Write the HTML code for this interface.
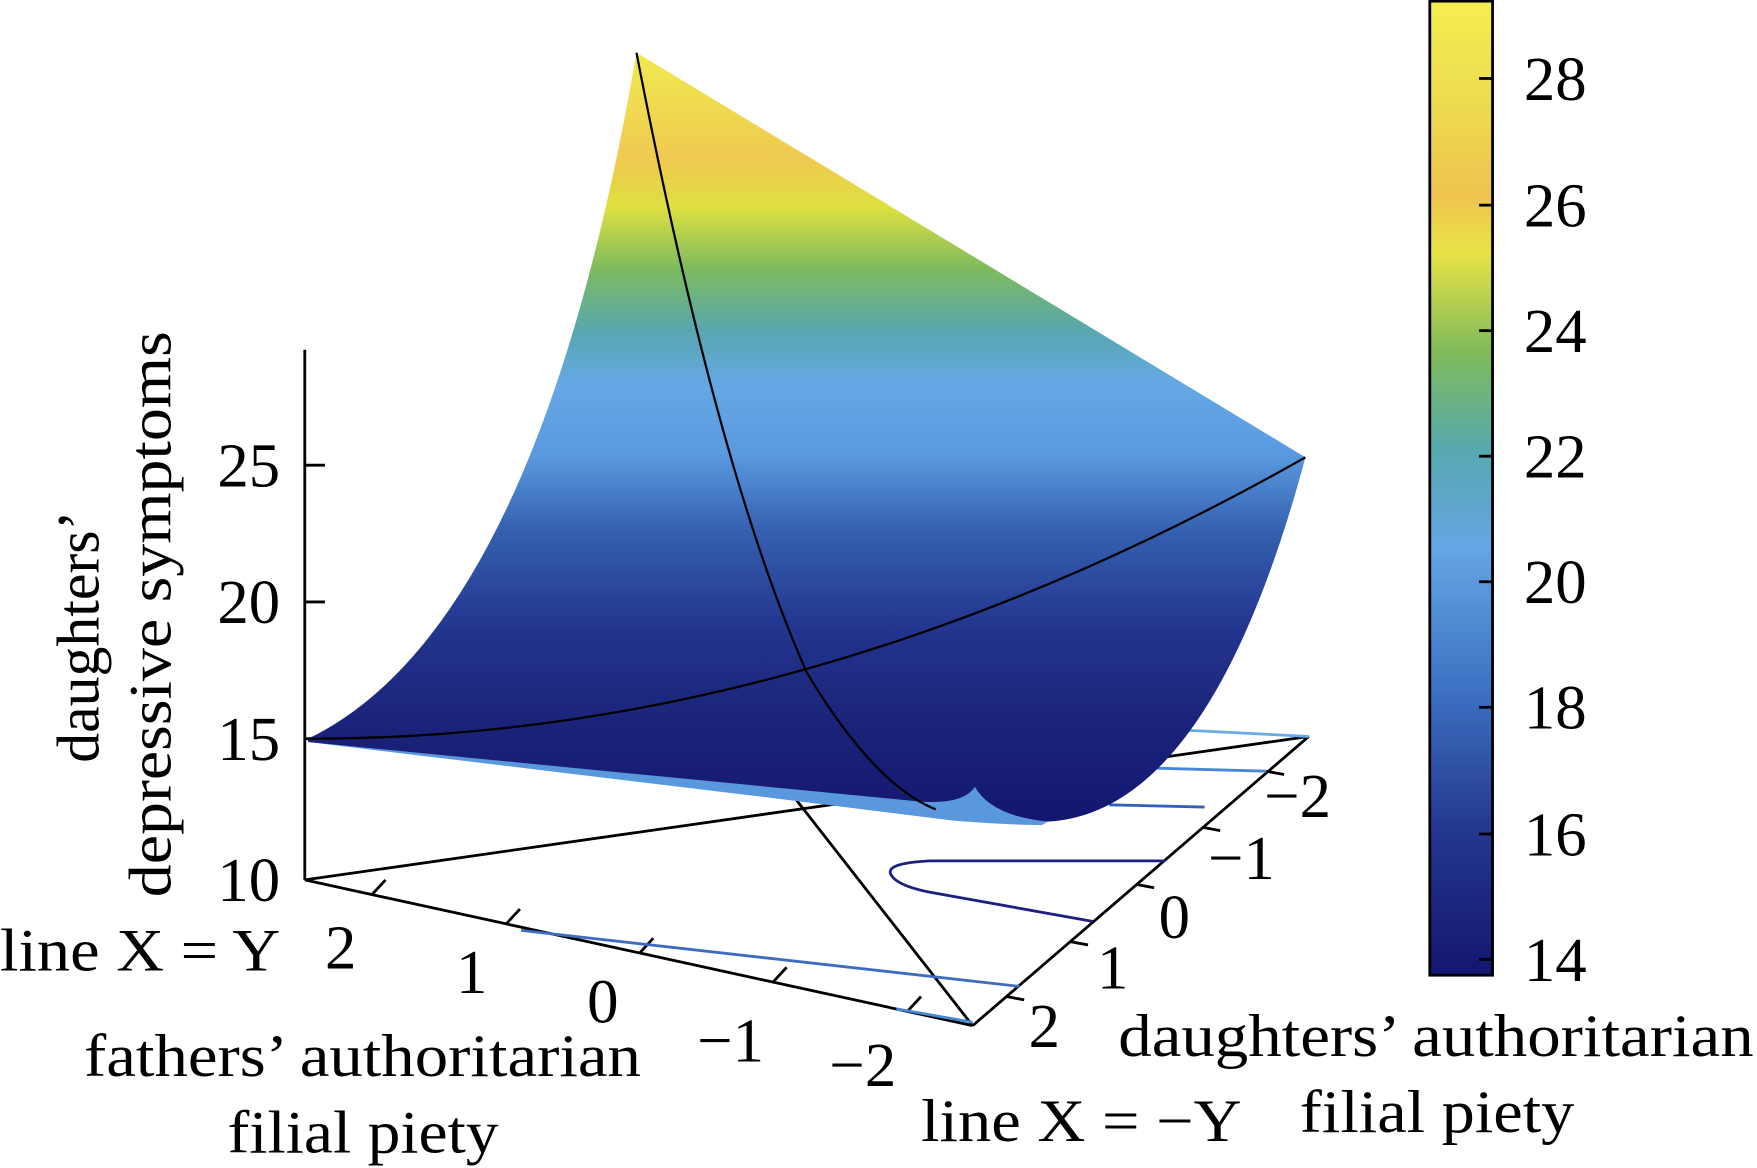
<!DOCTYPE html>
<html><head><meta charset="utf-8"><style>html,body{margin:0;padding:0;background:#fff}svg{display:block}text{font-family:"Liberation Serif",serif;fill:#000}</style></head>
<body>
<svg width="1757" height="1168" viewBox="0 0 1568 1042" preserveAspectRatio="none" xmlns="http://www.w3.org/2000/svg">
<defs>
<linearGradient id="sg" x1="0" y1="47" x2="0" y2="735" gradientUnits="userSpaceOnUse">
<stop offset="0" stop-color="#f0ea50"/>
<stop offset="0.14" stop-color="#efc950"/>
<stop offset="0.2" stop-color="#dfe040"/>
<stop offset="0.28" stop-color="#7dbb5e"/>
<stop offset="0.36" stop-color="#58a7b0"/>
<stop offset="0.43" stop-color="#64a8e4"/>
<stop offset="0.52" stop-color="#5a9ae0"/>
<stop offset="0.62" stop-color="#3560b0"/>
<stop offset="0.75" stop-color="#22348e"/>
<stop offset="0.88" stop-color="#1a2278"/>
<stop offset="1" stop-color="#141670"/>
</linearGradient>
<linearGradient id="cb" x1="0" y1="0" x2="0" y2="1">
<stop offset="0" stop-color="#f5ee50"/>
<stop offset="0.1" stop-color="#eddc50"/>
<stop offset="0.2" stop-color="#efc44e"/>
<stop offset="0.26" stop-color="#e7e346"/>
<stop offset="0.36" stop-color="#80bb5a"/>
<stop offset="0.46" stop-color="#57a9b0"/>
<stop offset="0.56" stop-color="#65a6e4"/>
<stop offset="0.7" stop-color="#3f74c4"/>
<stop offset="0.85" stop-color="#23388f"/>
<stop offset="1" stop-color="#141670"/>
</linearGradient>
</defs>
<g stroke="#000" stroke-width="2.5" fill="none">
<line x1="272" y1="312" x2="272" y2="785"/>
<line x1="272" y1="785" x2="868" y2="915"/>
<line x1="868" y1="915" x2="1168" y2="657"/>
<line x1="272" y1="785" x2="1168" y2="657"/>
<line x1="700" y1="700" x2="868" y2="915"/>
<line x1="272" y1="415" x2="290" y2="415"/><line x1="272" y1="537" x2="290" y2="537"/><line x1="272" y1="659" x2="290" y2="659"/>
<line x1="332" y1="798" x2="344" y2="785"/><line x1="452" y1="824" x2="464" y2="811"/><line x1="571" y1="850" x2="583" y2="837"/><line x1="690" y1="876" x2="702" y2="863"/><line x1="810" y1="902" x2="822" y2="889"/>
<line x1="898" y1="889" x2="914" y2="892"/><line x1="955" y1="840" x2="971" y2="843"/><line x1="1014" y1="789" x2="1030" y2="792"/><line x1="1073" y1="738" x2="1089" y2="741"/><line x1="1130" y1="688" x2="1146" y2="691"/>
</g>
<g fill="none" stroke-width="2.5">
<line x1="465" y1="830" x2="910" y2="880" stroke="#3e6cc0"/>
<line x1="800" y1="900" x2="868" y2="912" stroke="#4a86d8"/>
<path d="M1040 768 L830 768 Q790 770 795 780 Q800 790 830 796 L975 822" stroke="#1c2080"/>
<line x1="1030" y1="650" x2="1168" y2="657" stroke="#6aaae8"/>
<line x1="1020" y1="685" x2="1130" y2="688" stroke="#4a86d8"/>
<line x1="990" y1="718" x2="1075" y2="720" stroke="#3060b8"/>
</g>
<path d="M275 659 L700 700 L820 712 Q860 708 870 700 Q885 725 935 733 L930 736 Q900 736 850 732 L690 712 L275 662 Z" fill="#5a98de"/>
<path d="M275 659 Q480 560 568 47 L1165 408 Q1080 725 935 733 Q885 728 870 702 Q860 718 820 715 L275 662 Z" fill="url(#sg)"/>
<g fill="none" stroke="#000" stroke-width="2">
<path d="M568 47 Q640 420 720 600 Q780 700 835 722"/>
<path d="M275 659 Q720 660 1165 408"/>
</g>
<g font-size="56" text-anchor="end">
<text x="250" y="434">25</text><text x="250" y="556">20</text><text x="250" y="678">15</text><text x="250" y="804">10</text>
</g>
<text transform="translate(88,568) rotate(-90)" font-size="54" text-anchor="middle" textLength="225" lengthAdjust="spacingAndGlyphs">daughters’</text>
<text transform="translate(152,548) rotate(-90)" font-size="54" text-anchor="middle" textLength="505" lengthAdjust="spacingAndGlyphs">depressive symptoms</text>
<g font-size="56" text-anchor="middle">
<text x="304" y="864">2</text><text x="421" y="886">1</text><text x="538" y="912">0</text><text x="652" y="947">−1</text><text x="770" y="969">−2</text>
<text x="932" y="934">2</text><text x="993" y="882">1</text><text x="1048" y="837">0</text><text x="1108" y="784">−1</text><text x="1158" y="729">−2</text>
</g>
<g font-size="54">
<text x="0" y="866" textLength="250" lengthAdjust="spacingAndGlyphs">line X = Y</text>
<text x="75" y="960" textLength="497" lengthAdjust="spacingAndGlyphs">fathers’ authoritarian</text>
<text x="203" y="1028" textLength="242" lengthAdjust="spacingAndGlyphs">filial piety</text>
<text x="822" y="1018" textLength="286" lengthAdjust="spacingAndGlyphs">line X = −Y</text>
<text x="998" y="942" textLength="567" lengthAdjust="spacingAndGlyphs">daughters’ authoritarian</text>
<text x="1160" y="1010" textLength="245" lengthAdjust="spacingAndGlyphs">filial piety</text>
</g>
<rect x="1276" y="1" width="56" height="869" fill="url(#cb)" stroke="#000" stroke-width="2.5"/>
<g stroke="#000" stroke-width="2.5">
<line x1="1320" y1="70" x2="1332" y2="70"/><line x1="1320" y1="183" x2="1332" y2="183"/><line x1="1320" y1="295" x2="1332" y2="295"/><line x1="1320" y1="407" x2="1332" y2="407"/><line x1="1320" y1="519" x2="1332" y2="519"/><line x1="1320" y1="631" x2="1332" y2="631"/><line x1="1320" y1="744" x2="1332" y2="744"/><line x1="1320" y1="856" x2="1332" y2="856"/>
</g>
<g font-size="56">
<text x="1360" y="89">28</text><text x="1360" y="202">26</text><text x="1360" y="314">24</text><text x="1360" y="426">22</text><text x="1360" y="538">20</text><text x="1360" y="650">18</text><text x="1360" y="763">16</text><text x="1360" y="875">14</text>
</g>
</svg>
</body></html>
